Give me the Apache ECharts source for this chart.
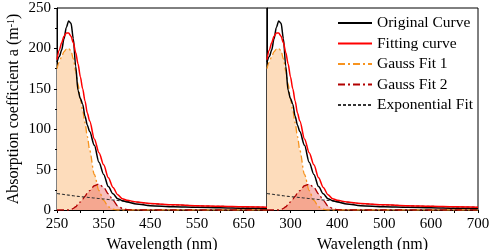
<!DOCTYPE html>
<html lang="en">
<head>
    <meta charset="UTF-8">
    <title>Absorption fit</title>
    <style>
        * { margin: 0; padding: 0; }
        #main { width: 491px; height: 250px; }
    </style>
</head>
<body>
    <div id="main"></div>
</body>
<script src="https://cdn.jsdelivr.net/npm/echarts@6/dist/echarts.min.js"></script>
<script>
    // wavelength points (nm)
    let wavelength = [250, 255, 260, 265, 270, 275, 280, 285, 290, 295, 300, 305, 310, 315, 320,
        330, 340, 350, 360, 370, 380, 390, 400, 420, 450, 500, 550, 600, 650, 700];
    let original = [183, 190, 198, 212, 226, 234, 231, 212, 178, 148, 138, 131, 116, 105, 97,
        80, 59, 44, 29, 20, 14, 11.5, 10, 7.5, 5.3, 4, 3.3, 2.8, 2.2, 2];
    let fitting = [186, 198, 207, 215, 219, 219, 215, 207, 195, 181, 165, 150, 135, 120, 110,
        88, 71, 56, 40, 28, 19, 14, 12, 10, 8, 6.4, 5.3, 4.6, 4, 3.5];
    let gauss1 = [175, 183, 190, 196, 199, 200, 197, 187, 172, 156, 138, 123, 108, 91, 74,
        44, 24, 12, 4, 1, 0, 0, 0, 0, 0, 0, 0, 0, 0, 0];
    let gauss2 = [0, 0, 0, 0, 0, 0, 0.5, 2, 4, 7, 10, 13.5, 17, 21, 24,
        30, 32, 28, 20, 12, 5, 2, 0.5, 0, 0, 0, 0, 0, 0, 0];
    let expFit = [20.5, 20, 19.6, 19.2, 18.8, 18.4, 18, 17.6, 17.2, 16.9, 16.6, 16.3, 16, 15.7, 15.4,
        14.8, 14.2, 13.6, 13, 12.4, 11.8, 11.3, 10.8, 9.9, 7.8, 6.3, 5.2, 4.5, 3.9, 3.4];

    let font = 'Liberation Serif, DejaVu Serif, serif';

    function pairs(arr) {
        return wavelength.map((w, i) => [w, arr[i]]);
    }

    function makeSeries(idx) {
        let base = {
            type: 'line',
            xAxisIndex: idx,
            yAxisIndex: idx,
            symbol: 'none',
            smooth: 0.3,
            smoothMonotone: 'x'
        };
        return [
            Object.assign({}, base, {
                name: 'Gauss Fit 1',
                data: pairs(gauss1),
                lineStyle: { color: '#f7931e', width: 1.3, type: [7, 3, 2, 3] },
                itemStyle: { color: '#f7931e' },
                areaStyle: { color: '#fddcbb', opacity: 1 }
            }),
            Object.assign({}, base, {
                name: 'Gauss Fit 2',
                data: pairs(gauss2),
                lineStyle: { color: '#b20000', width: 1.3, type: [7, 3, 2, 3] },
                itemStyle: { color: '#b20000' },
                areaStyle: { color: '#e53935', opacity: 0.32 }
            }),
            Object.assign({}, base, {
                name: 'Exponential Fit',
                data: pairs(expFit),
                lineStyle: { color: '#333', width: 1.1, type: [3, 2] },
                itemStyle: { color: '#333' }
            }),
            Object.assign({}, base, {
                name: 'Original Curve',
                data: pairs(original),
                lineStyle: { color: '#000', width: 1.5 },
                itemStyle: { color: '#000' }
            }),
            Object.assign({}, base, {
                name: 'Fitting curve',
                data: pairs(fitting),
                lineStyle: { color: '#ff0000', width: 1.5 },
                itemStyle: { color: '#ff0000' }
            })
        ];
    }

    function xAxisFor(idx, fmt) {
        return {
            type: 'value',
            gridIndex: idx,
            min: 250,
            max: 700,
            interval: 50,
            name: 'Wavelength (nm)',
            nameLocation: 'middle',
            nameGap: 17,
            nameTextStyle: { fontFamily: font, fontSize: 16, color: '#000' },
            axisLine: { lineStyle: { color: '#000' } },
            axisTick: { inside: false, length: 3, lineStyle: { color: '#000' } },
            splitLine: { show: false },
            axisLabel: {
                fontFamily: font, fontSize: 15, color: '#000', margin: 7,
                showMinLabel: true, showMaxLabel: true,
                formatter: fmt
            }
        };
    }

    let option = {
        animation: false,
        textStyle: { fontFamily: font },
        grid: [
            { left: 57, top: 8, width: 210, height: 202, outerBoundsMode: 'none', containLabel: false,
                show: true, borderColor: '#000', borderWidth: 1 },
            { left: 267, top: 8, width: 211, height: 202, outerBoundsMode: 'none', containLabel: false,
                show: true, borderColor: '#000', borderWidth: 1 }
        ],
        legend: {
            orient: 'vertical',
            left: 332,
            top: 10,
            itemWidth: 34,
            itemHeight: 14,
            itemGap: 4.5,
            itemStyle: { opacity: 0 },
            textStyle: { fontFamily: font, fontSize: 15.5, lineHeight: 15, color: '#000' },
            data: ['Original Curve', 'Fitting curve', 'Gauss Fit 1', 'Gauss Fit 2', 'Exponential Fit']
        },
        xAxis: [
            xAxisFor(0, v => ((v - 250) % 100 === 0 && v < 700) ? String(v) : ''),
            xAxisFor(1, v => (v % 100 === 0) ? String(v) : '')
        ],
        yAxis: [
            {
                type: 'value',
                gridIndex: 0,
                min: 0,
                max: 250,
                interval: 50,
                name: 'Absorption coefficient a (m{sup|-1})',
                nameLocation: 'middle',
                nameGap: 35,
                nameTextStyle: {
                    fontFamily: font, fontSize: 16, color: '#000',
                    rich: { sup: { fontFamily: font, fontSize: 10, color: '#000', verticalAlign: 'top', lineHeight: 10 } }
                },
                axisLine: { show: true, lineStyle: { color: '#000' } },
                axisTick: { show: true, length: 3, lineStyle: { color: '#000' } },
                minorTick: { show: true, splitNumber: 2, length: 2, lineStyle: { color: '#000' } },
                splitLine: { show: false },
                axisLabel: { fontFamily: font, fontSize: 15, color: '#000', margin: 6 }
            },
            {
                type: 'value',
                gridIndex: 1,
                min: 0,
                max: 250,
                interval: 50,
                axisLine: { show: true, lineStyle: { color: '#000' } },
                axisTick: { show: false },
                splitLine: { show: false },
                axisLabel: { show: false }
            }
        ],
        series: makeSeries(0).concat(makeSeries(1))
    };

    let myCharts = echarts.init(document.getElementById('main'));
    myCharts.setOption(option);
</script>
</html>
